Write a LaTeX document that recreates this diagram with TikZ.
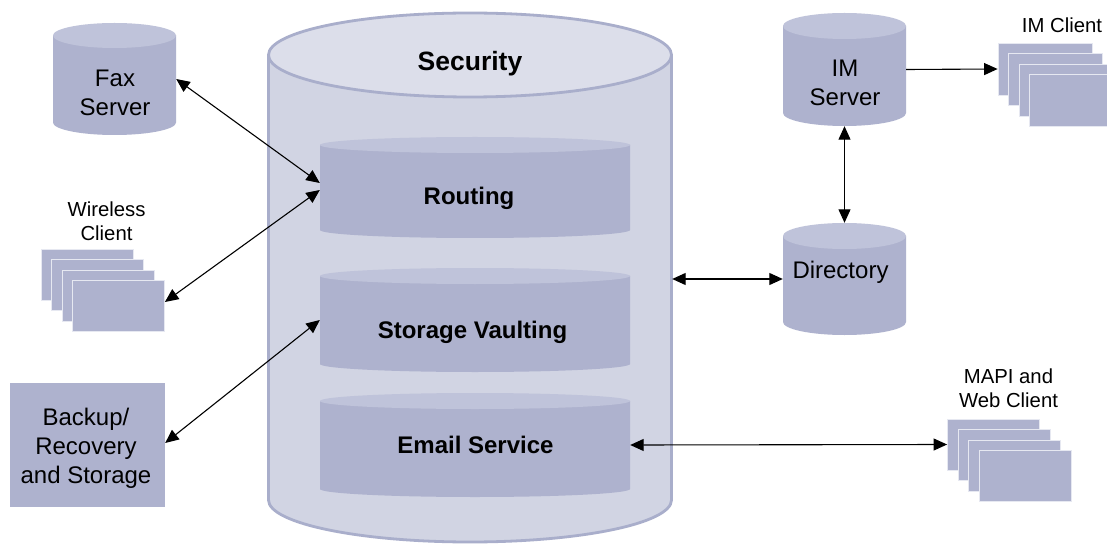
\documentclass[tikz,border=0pt]{standalone}
\usepackage{fontspec}
\setmainfont{Liberation Sans}
\usetikzlibrary{arrows.meta}

\definecolor{drumbody}{HTML}{AEB2CE}
\definecolor{drumtop}{HTML}{BFC3DA}
\definecolor{vaultbody}{HTML}{D1D4E3}
\definecolor{vaulttop}{HTML}{DCDEEA}
\definecolor{vaultline}{HTML}{A9AECB}
\definecolor{cardedge}{HTML}{E6E8F1}

% cylinder: left, right, top, bottom (measured downwards), end radius
\newcommand{\drawdrum}[5]{%
  \pgfmathsetmacro{\dcx}{(#1+#2)/2}%
  \pgfmathsetmacro{\drx}{(#2-#1)/2}%
  \pgfmathsetmacro{\dyt}{-(#3+#5)}%
  \pgfmathsetmacro{\dyb}{-(#4-#5)}%
  \fill[drumbody] (#1,\dyt) -- (#1,\dyb)
    arc[start angle=180, end angle=360, x radius=\drx pt, y radius=#5pt]
    -- (#2,\dyt) -- cycle;
  \fill[drumtop] (\dcx,\dyt) ellipse[x radius=\drx pt, y radius=#5pt];
}

\tikzset{
  hull/.style 2 args={shape=rectangle, draw=none, inner sep=0pt,
    minimum width=#1pt, minimum height=#2pt},
  card/.style={shape=rectangle, fill=drumbody, draw=cardedge, line width=0.8pt,
    inner sep=0pt, minimum width=92pt, minimum height=51pt},
  plainbox/.style={shape=rectangle, fill=drumbody, inner sep=0pt},
  lbl/.style={font=\fontsize{24}{29}\selectfont, align=center, inner sep=0pt},
  lblsmall/.style={font=\fontsize{20.3}{24.5}\selectfont, align=center, inner sep=0pt},
  lblbold/.style={font=\fontsize{24}{29}\selectfont\bfseries, align=center, inner sep=0pt},
  lbltitle/.style={font=\fontsize{26.5}{30}\selectfont\bfseries, align=center, inner sep=0pt},
  link/.style={line width=1.1pt, >={Triangle[length=13.5pt,width=12pt]}},
}

\begin{document}
\begin{tikzpicture}[x=1pt, y=1pt]
\clip (0,0) rectangle (1107,-545);
\fill[white] (0,0) rectangle (1107,-545);

% --- central security vault ---
\fill[vaultbody] (268.5,-55) -- (268.5,-500)
  arc[start angle=180, end angle=360, x radius=201.5pt, y radius=42pt]
  -- (671.5,-55) -- cycle;
\draw[vaultline, line width=2.8pt] (268.5,-55) -- (268.5,-500)
  arc[start angle=180, end angle=360, x radius=201.5pt, y radius=42pt]
  -- (671.5,-55);
\draw[vaultline, line width=2.8pt, fill=vaulttop] (470,-55)
  ellipse[x radius=201.5pt, y radius=42pt];
\node[hull={404}{531}] (security) at (470,-277.5) {};
\node[lbltitle] (securitytext) at (470,-64) {Security};

% --- inner service cylinders ---
\drawdrum{320}{630}{137}{238}{8}
\node[hull={310}{101}] (routing) at (475,-187.5) {};
\node[lblbold] (routingtext) at (469,-198.5) {Routing};

\drawdrum{320}{630}{268}{372}{8}
\node[hull={310}{104}] (storage) at (475,-320) {};
\node[lblbold] (storagetext) at (472.5,-332.5) {Storage Vaulting};

\drawdrum{320}{630}{393}{497}{8}
\node[hull={310}{104}] (email) at (475,-445) {};
\node[lblbold] (emailtext) at (475.5,-445) {Email Service};

% --- fax server ---
\drawdrum{53}{176}{23}{135}{12.5}
\node[hull={123}{112}] (fax) at (114.5,-79) {};
\node[lbl] (faxtext) at (115,-93) {Fax\\Server};

% --- IM server and directory ---
\drawdrum{783}{906}{13}{126}{13}
\node[hull={123}{113}] (imserver) at (844.5,-69.5) {};
\node[lbl] (imservertext) at (845,-83) {IM\\Server};

\drawdrum{783}{906}{223}{335}{13}
\node[hull={123}{112}] (directory) at (844.5,-279) {};
\node[lbl] (directorytext) at (840.5,-272.5) {Directory};

% --- backup box ---
\node[plainbox, minimum width=155pt, minimum height=124pt] (backup) at (87.5,-445) {};
\node[lbl] (backuptext) at (86,-448.5) {Backup/\\Recovery\\and Storage};

% --- wireless client stack ---
\node[card] (w1) at (87,-274.5) {};
\node[card] (w2) at (97.5,-285) {};
\node[card] (w3) at (108,-295.5) {};
\node[card] (w4) at (118.5,-306) {};
\node[lblsmall] (wtext) at (106.5,-221) {Wireless\\Client};

% --- IM client stack ---
\node[card, minimum width=94pt, minimum height=52pt] (ic1) at (1045,-69) {};
\node[card, minimum width=94pt, minimum height=52pt] (ic2) at (1055.5,-79.5) {};
\node[card, minimum width=94pt, minimum height=52pt] (ic3) at (1066,-90) {};
\node[card, minimum width=94pt, minimum height=52pt] (ic4) at (1076.5,-100.5) {};
\node[lblsmall] (ictext) at (1062,-25) {IM Client};

% --- MAPI and web client stack ---
\node[card] (m1) at (993.5,-444.5) {};
\node[card] (m2) at (1004,-455) {};
\node[card] (m3) at (1014.5,-465.5) {};
\node[card] (m4) at (1025,-476) {};
\node[lblsmall] (mtext) at (1008.5,-388) {MAPI and\\Web Client};

% --- connectors ---
\draw[link, <->] (fax.east) -- ([yshift=4.5pt]routing.west);
\draw[link, <->] ([yshift=4pt]w4.east) -- ([yshift=-2.5pt]routing.west);
\draw[link, <->] ([yshift=2pt]backup.east) -- (storage.west);
\draw[link, <->] (security.east |- directory.west) -- (directory.west);
\draw[link, <->] (imserver.south) -- (directory.north);
\draw[link, ->] (imserver.east) -- (ic1.west);
\draw[link, <->] (email.east) -- (m1.west);
\end{tikzpicture}
\end{document}
